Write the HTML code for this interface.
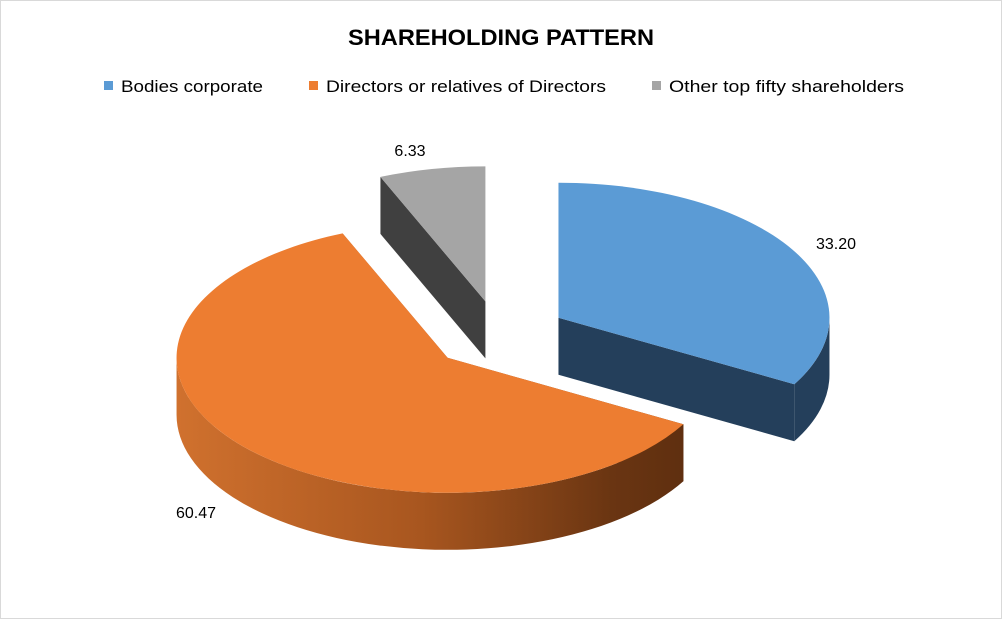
<!DOCTYPE html>
<html><head><meta charset="utf-8">
<style>
html,body{margin:0;padding:0;background:#fff;}
svg{display:block;font-family:"Liberation Sans",sans-serif;}
</style></head>
<body>
<svg id="chart" width="1002" height="619" viewBox="0 0 1002 619">
  <defs>
    <linearGradient id="orangeSide" gradientUnits="userSpaceOnUse" x1="177" y1="0" x2="720" y2="0">
      <stop offset="0" stop-color="#D0712E"/>
      <stop offset="0.45" stop-color="#A8561F"/>
      <stop offset="0.8" stop-color="#6A3512"/>
      <stop offset="1" stop-color="#5A2C0E"/>
    </linearGradient>
  </defs>
  <rect x="0.5" y="0.5" width="1001" height="618" fill="#fff" stroke="#D9D9D9"/>
  <text x="501" y="45" text-anchor="middle" font-size="22" font-weight="bold" fill="#000" textLength="306" lengthAdjust="spacingAndGlyphs">SHAREHOLDING PATTERN</text>
  <g id="legend"></g>
  <g id="pie"></g>
  <g id="labels"></g>
</svg>
<script>
const categories = ["Bodies corporate", "Directors or relatives of Directors", "Other top fifty shareholders"];
const values = [33.20, 60.47, 6.33];
const valueLabels = ["33.20", "60.47", "6.33"];

const NS = "http://www.w3.org/2000/svg";
const topColors = ["#5B9BD5", "#ED7D31", "#A5A5A5"];
const sideColors = ["#243F5B", "url(#orangeSide)", "#404040"];
const CX = 499, CY = 335, RX = 271, RY = 135, DEPTH = 57, EXPLODE = 0.254;

function mk(tag, attrs, parent) {
  const el = document.createElementNS(NS, tag);
  for (const k in attrs) el.setAttribute(k, attrs[k]);
  parent.appendChild(el);
  return el;
}
function pt(c, a, h) {
  const r = a * Math.PI / 180;
  return [c[0] + RX * Math.sin(r), c[1] - RY * Math.cos(r) + (h || 0)];
}
function f(p) { return p[0].toFixed(2) + " " + p[1].toFixed(2); }

// legend
const legend = document.getElementById("legend");
const legX = [104, 309, 652];
const legW = [142, 280, 235];
categories.forEach((c, i) => {
  const sq = mk("rect", {x: legX[i], y: 81, width: 9, height: 9, fill: topColors[i]}, legend);
  
  
  const t = mk("text", {x: legX[i] + 17, y: 92, "font-size": 17, fill: "#000", textLength: legW[i], lengthAdjust: "spacingAndGlyphs"}, legend);
  t.textContent = c;
  
  
});

// pie
const pie = document.getElementById("pie");
const total = values.reduce((a, b) => a + b, 0);
const slices = [];
let acc = 0;
values.forEach((v, i) => {
  const a0 = acc / total * 360;
  acc += v;
  const a1 = acc / total * 360;
  const mid = (a0 + a1) / 2 * Math.PI / 180;
  const c = [CX + EXPLODE * RX * Math.sin(mid), CY - EXPLODE * RY * Math.cos(mid)];
  slices.push({i, a0, a1, c});
});
// painter order: back slices first
const order = slices.slice().sort((s, t) => {
  const ys = Math.cos(((s.a0 + s.a1) / 2) * Math.PI / 180);
  const yt = Math.cos(((t.a0 + t.a1) / 2) * Math.PI / 180);
  return yt - ys;
});
order.forEach(s => {
  const g = mk("g", {}, pie);
  
  
  const c = s.c, cb = [c[0], c[1] + DEPTH];
  // radial walls
  [s.a0, s.a1].forEach(a => {
    const p = pt(c, a), pb = pt(c, a, DEPTH);
    const w = mk("path", {d: "M" + f(c) + " L" + f(p) + " L" + f(pb) + " L" + f(cb) + " Z", fill: sideColors[s.i]}, g);
    
    
  });
  // outer arc wall on the front (90..270)
  const s0 = Math.max(s.a0, 90), s1 = Math.min(s.a1, 270);
  if (s1 > s0) {
    const large = (s1 - s0) > 180 ? 1 : 0;
    const p0 = pt(c, s0), p1 = pt(c, s1), p1b = pt(c, s1, DEPTH), p0b = pt(c, s0, DEPTH);
    const w = mk("path", {d: "M" + f(p0) + " A" + RX + " " + RY + " 0 " + large + " 1 " + f(p1) +
      " L" + f(p1b) + " A" + RX + " " + RY + " 0 " + large + " 0 " + f(p0b) + " Z", fill: sideColors[s.i]}, g);
    
    
  }
  // top face
  const large = (s.a1 - s.a0) > 180 ? 1 : 0;
  const t = mk("path", {d: "M" + f(c) + " L" + f(pt(c, s.a0)) + " A" + RX + " " + RY + " 0 " + large + " 1 " + f(pt(c, s.a1)) + " Z", fill: topColors[s.i]}, g);
  
  
});

// labels
const labels = document.getElementById("labels");
const labelPos = [[836, 249], [196, 518], [410, 156]];
valueLabels.forEach((v, i) => {
  const t = mk("text", {x: labelPos[i][0], y: labelPos[i][1], "font-size": 16, fill: "#000", "text-anchor": "middle"}, labels);
  t.textContent = v;
  
  
});
</script>
</body></html>
